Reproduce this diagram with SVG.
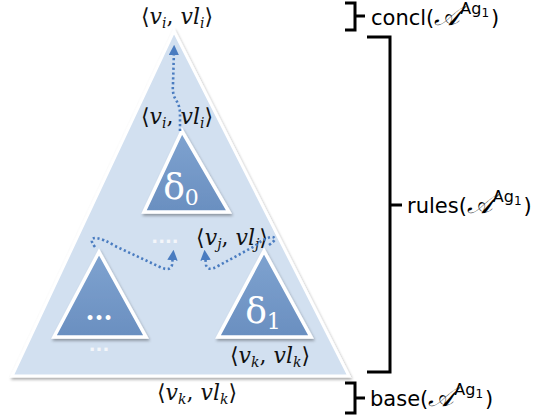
<svg xmlns="http://www.w3.org/2000/svg" width="540" height="417" viewBox="0 0 540 417">
<defs>
<style>
.m{font-family:'DejaVu Serif',serif;font-size:22px;fill:#111}
.i{font-style:italic}
.s{font-size:14px}
.lab{font-family:'DejaVu Sans',sans-serif;font-size:21px;fill:#000}
.cal{font-style:italic;font-size:27px}
.sup{font-size:16px}
.ss{font-size:12px}
.w{font-family:'DejaVu Serif',serif;fill:#fff}
.br{fill:none;stroke:#000;stroke-width:3}
.dot{fill:none;stroke:#4a7cc0;stroke-width:2.6;stroke-dasharray:2.2 2.6}
.sub{fill:url(#g2);stroke:#fff;stroke-width:3.5;stroke-linejoin:miter}
</style>
<linearGradient id="g2" x1="0" y1="0" x2="0" y2="1">
<stop offset="0" stop-color="#7fa3d0"/>
<stop offset="1" stop-color="#6a8fc0"/>
</linearGradient>
<filter id="sh" x="-10%" y="-10%" width="120%" height="120%">
<feGaussianBlur in="SourceAlpha" stdDeviation="1.5"/>
<feOffset dx="1" dy="2"/>
<feComponentTransfer><feFuncA type="linear" slope="0.35"/></feComponentTransfer>
<feMerge><feMergeNode/><feMergeNode in="SourceGraphic"/></feMerge>
</filter>
<marker id="ah" viewBox="0 0 10 10" refX="5" refY="5" markerWidth="4" markerHeight="4" orient="auto">
<path d="M0,0 L10,5 L0,10 z" fill="#4a7cc0"/>
</marker>
</defs>
<rect width="540" height="417" fill="#fff"/>

<g id="main-tree">
<polygon points="174,31 12,376 349,376" fill="#d2e0f0" stroke="#fff" stroke-width="3" filter="url(#sh)"/>
</g>

<g id="delta0">
<polygon class="sub" points="182,131 144,212 229,212" filter="url(#sh)"/>
<text class="w" x="181" y="199" font-size="36" text-anchor="middle">δ<tspan font-size="22" dy="6">0</tspan></text>
</g>

<g id="subtree-dots">
<polygon class="sub" points="99,252 54,337 146,337" filter="url(#sh)"/>
<text class="w" x="99" y="320" font-size="26" text-anchor="middle" font-weight="bold">...</text>
<text x="99" y="351" font-family="DejaVu Sans,sans-serif" font-size="18" fill="#f4f6fa" text-anchor="middle" font-weight="bold">...</text>
</g>

<g id="delta1">
<polygon class="sub" points="264,251 218,337 311,337" filter="url(#sh)"/>
<text class="w" x="263" y="323" font-size="36" text-anchor="middle">δ<tspan font-size="22" dy="6">1</tspan></text>
</g>

<g id="labels">
<text class="m" x="177" y="24" text-anchor="middle">⟨<tspan class="i">v</tspan><tspan class="s i" dy="4">i</tspan><tspan dy="-4">, </tspan><tspan class="i">vl</tspan><tspan class="s i" dy="4">i</tspan><tspan dy="-4">⟩</tspan></text>
<text class="m" x="177" y="124" text-anchor="middle">⟨<tspan class="i">v</tspan><tspan class="s i" dy="4">i</tspan><tspan dy="-4">, </tspan><tspan class="i">vl</tspan><tspan class="s i" dy="4">i</tspan><tspan dy="-4">⟩</tspan></text>
<text x="165" y="243" font-family="DejaVu Sans,sans-serif" font-size="18" fill="#f4f6fa" text-anchor="middle" font-weight="bold">....</text>
<text class="m" x="232" y="245" text-anchor="middle">⟨<tspan class="i">v</tspan><tspan class="s i" dy="4">j</tspan><tspan dy="-4">, </tspan><tspan class="i">vl</tspan><tspan class="s i" dy="4">j</tspan><tspan dy="-4">⟩</tspan></text>
<text class="m" x="270" y="363" text-anchor="middle">⟨<tspan class="i">v</tspan><tspan class="s i" dy="4">k</tspan><tspan dy="-4">, </tspan><tspan class="i">vl</tspan><tspan class="s i" dy="4">k</tspan><tspan dy="-4">⟩</tspan></text>
<text class="m" x="197" y="400" text-anchor="middle">⟨<tspan class="i">v</tspan><tspan class="s i" dy="4">k</tspan><tspan dy="-4">, </tspan><tspan class="i">vl</tspan><tspan class="s i" dy="4">k</tspan><tspan dy="-4">⟩</tspan></text>
</g>

<g id="connectors">
<path class="dot" d="M180,131 L180,114 Q180,106 176,100 Q172,94 173,84 L174,50" marker-end="url(#ah)"/>
<path class="dot" d="M95,247 Q88,238 96,238 Q104,239 115,246 L160,267 Q170,272 172,265 L173,255" marker-end="url(#ah)"/>
<path class="dot" d="M269,245 Q279,238 272,237 Q264,238 255,246 L218,266 Q208,272 206,265 L205,255" marker-end="url(#ah)"/>
</g>

<g id="brackets">
<path class="br" d="M345,3 H355 V30 H345 M355,16 H365"/>
<text class="lab" x="371" y="25">concl(<tspan class="cal">𝒜</tspan><tspan class="sup" dy="-11">Ag</tspan><tspan class="ss" dy="3">1</tspan><tspan dx="2" dy="8">)</tspan></text>
<path class="br" d="M367,37 H390 V372 H367 M390,205 H402"/>
<text class="lab" x="407" y="213">rules(<tspan class="cal">𝒜</tspan><tspan class="sup" dy="-11">Ag</tspan><tspan class="ss" dy="3">1</tspan><tspan dx="2" dy="8">)</tspan></text>
<path class="br" d="M345,383 H355 V413 H345 M355,398 H365"/>
<text class="lab" x="370" y="406">base(<tspan class="cal">𝒜</tspan><tspan class="sup" dy="-11">Ag</tspan><tspan class="ss" dy="3">1</tspan><tspan dx="2" dy="8">)</tspan></text>
</g>
</svg>
